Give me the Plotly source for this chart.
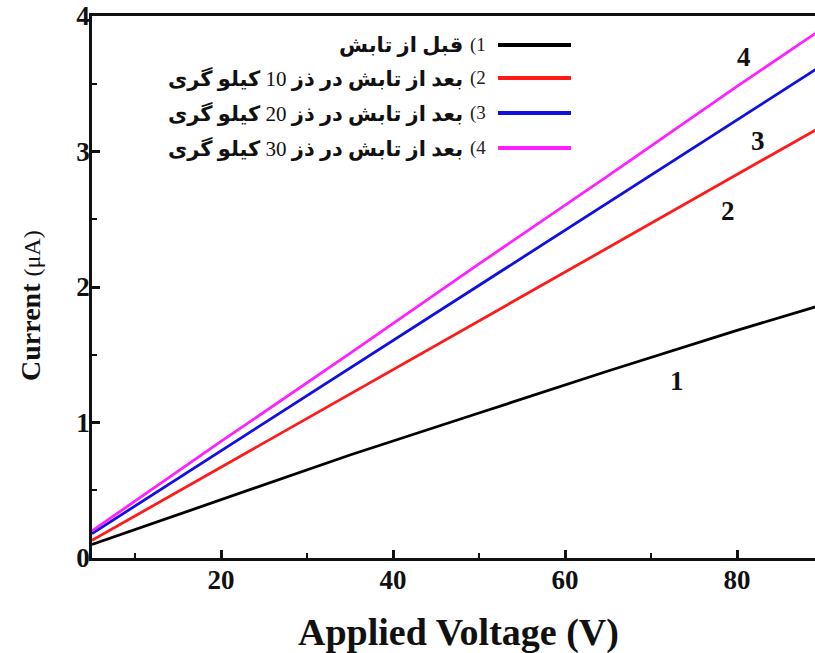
import plotly.graph_objects as go

voltage = [5, 20, 35, 50, 65, 80, 90]
current_1 = [0.10, 0.43, 0.76, 1.07, 1.38, 1.68, 1.87]
current_2 = [0.13, 0.67, 1.21, 1.75, 2.29, 2.83, 3.19]
current_3 = [0.18, 0.79, 1.40, 2.01, 2.62, 3.23, 3.64]
current_4 = [0.20, 0.86, 1.51, 2.17, 2.82, 3.48, 3.91]

series_numbers = ["(1", "(2", "(3", "(4"]
series_names = [
    "<b>قبل از تابش</b>",
    "<b>بعد از تابش در ذز</b> 10 <b>کیلو گری</b>",
    "<b>بعد از تابش در ذز</b> 20 <b>کیلو گری</b>",
    "<b>بعد از تابش در ذز</b> 30 <b>کیلو گری</b>",
]
series_colors = ["#000000", "#ff1a1a", "#1010e0", "#ff20ff"]
curve_labels = ["1", "2", "3", "4"]
label_x = [73.0, 79.0, 82.4, 80.8]
label_y = [1.31, 2.56, 3.08, 3.70]

ys = [current_1, current_2, current_3, current_4]

W, H = 815, 653
L, R, T, B = 92, 0, 16, 95
pw, ph = W - L - R, H - T - B

def px(x):
    return (x - L) / pw

def py(y):
    return (H - B - y) / ph

serif = "Liberation Serif, Times New Roman, serif"

fig = go.Figure()
for y, c in zip(ys, series_colors):
    fig.add_trace(go.Scatter(x=voltage, y=y, mode="lines",
                             line=dict(color=c, width=2.8), showlegend=False))

ann = []
for t, x, y in zip(curve_labels, label_x, label_y):
    ann.append(dict(x=x, y=y, xref="x", yref="y", text="<b>" + t + "</b>",
                    xanchor="center", yanchor="middle",
                    showarrow=False, font=dict(family=serif, size=27, color="#111")))

legend_rows = [45, 78, 113, 148]
for num, name, c, ry in zip(series_numbers, series_names, series_colors, legend_rows):
    ann.append(dict(x=px(488), y=py(ry), xref="paper", yref="paper", text=num,
                    xanchor="right", yanchor="middle", showarrow=False,
                    font=dict(family=serif, size=19, color="#222")))
    ann.append(dict(x=px(465), y=py(ry), xref="paper", yref="paper", text=name,
                    xanchor="right", yanchor="middle", showarrow=False,
                    font=dict(family=serif + ", DejaVu Sans", size=21, color="#111")))

ann.append(dict(x=px(458), y=py(632), xref="paper", yref="paper",
                xanchor="center", yanchor="middle",
                text="<b>Applied Voltage (V)</b>", showarrow=False,
                font=dict(family=serif, size=38, color="#111")))
ann.append(dict(x=px(30), y=py(306), xref="paper", yref="paper",
                xanchor="center", yanchor="middle",
                text="<b>Current</b> <span style='font-size:24px'>(μA)</span>",
                textangle=-90, showarrow=False,
                font=dict(family=serif, size=28, color="#111")))

shapes = []
for c, ry in zip(series_colors, legend_rows):
    shapes.append(dict(type="line", xref="paper", yref="paper",
                       x0=px(498), x1=px(571), y0=py(ry), y1=py(ry),
                       line=dict(color=c, width=4)))

fig.update_layout(
    width=W, height=H,
    margin=dict(l=L, r=R, t=T, b=B),
    paper_bgcolor="white", plot_bgcolor="white",
    annotations=ann, shapes=shapes,
    xaxis=dict(range=[5, 5 + pw / 8.6], tickvals=[20, 40, 60, 80],
               ticktext=["<b>20</b>", "<b>40</b>", "<b>60</b>", "<b>80</b>"],
               ticks="inside", ticklen=8, tickwidth=2.5, tickcolor="#111",
               minor=dict(tickvals=[10, 30, 50, 70], ticks="inside", ticklen=5,
                          tickwidth=2, tickcolor="#111"),
               showline=True, linecolor="#111", linewidth=2.5, mirror=True,
               showgrid=False, zeroline=False, ticklabelstandoff=-4,
               tickfont=dict(family=serif, size=27, color="#111")),
    yaxis=dict(range=[0, 4], tickvals=[0, 1, 2, 3, 4],
               ticktext=["<b>0</b>", "<b>1</b>", "<b>2</b>", "<b>3</b>", "<b>4</b>"],
               ticks="inside", ticklen=8, tickwidth=2.5, tickcolor="#111",
               minor=dict(tickvals=[0.5, 1.5, 2.5, 3.5], ticks="inside", ticklen=5,
                          tickwidth=2, tickcolor="#111"),
               showline=True, linecolor="#111", linewidth=2.5,
               showgrid=False, zeroline=False, ticklabelstandoff=-6,
               tickfont=dict(family=serif, size=27, color="#111")),
)

fig.write_html("out.html")
